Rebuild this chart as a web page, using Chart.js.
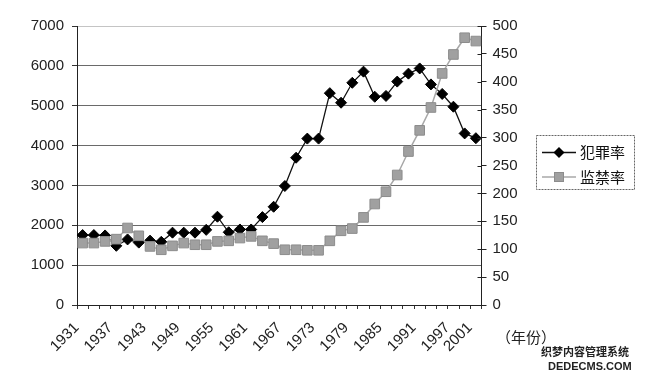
<!DOCTYPE html>
<html><head><meta charset="utf-8">
<script src="https://cdn.jsdelivr.net/npm/chart.js@4"></script>
<style>html,body{margin:0;padding:0;background:#fff}#wrap{width:650px;height:378px;position:relative}</style>
</head><body><div id="wrap"><canvas id="c" width="650" height="378"></canvas></div>
<script>
const years = [1931,1933,1935,1937,1939,1941,1943,1945,1947,1949,1951,1953,1955,1957,1959,1961,1963,1965,1967,1969,1971,1973,1975,1977,1979,1981,1983,1985,1987,1989,1991,1993,1995,1997,1999,2001];
const xLabelYears = [1931,1937,1943,1949,1955,1961,1967,1973,1979,1985,1991,1997,2001];
const crimeRate = [1755,1755,1745,1485,1645,1565,1615,1585,1815,1815,1815,1885,2215,1825,1895,1895,2205,2465,2985,3695,4175,4175,5315,5075,5575,5855,5225,5245,5605,5805,5935,5535,5295,4975,4305,4185];
const prisonRate = [111,111,114,118,138,124,105,99,106,111,108,108,114,115,120,123,115,110,99,99,98,98,115,133,137,157,181,203,233,275,313,354,415,449,479,473];
const seriesNames = ['犯罪率','监禁率'];
const xUnit = '（年份）';
const watermark = ['织梦内容管理系统','DEDECMS.COM'];

const NUM_FONT = 'Liberation Sans, Arial, sans-serif';
const CJK_FONT = '"Noto Sans CJK SC", sans-serif';

const extras = {
  id:'extras',
  afterDraw(chart){
    const ctx = chart.ctx;
    const y2 = chart.scales.y2;
    ctx.save();
    ctx.strokeStyle = '#222'; ctx.lineWidth = 1;
    y2.ticks.forEach((t,i)=>{
      const py = Math.round(y2.getPixelForTick(i))+0.5;
      ctx.beginPath(); ctx.moveTo(y2.left-4, py); ctx.lineTo(y2.left, py); ctx.stroke();
    });
    const bx=536.5, by=135.5, bw=98, bh=54;
    ctx.setLineDash([2,1]); ctx.strokeStyle='#666';
    ctx.strokeRect(bx,by,bw,bh);
    ctx.setLineDash([]);
    const rows=[152.5,177];
    const ds = chart.data.datasets;
    rows.forEach((ry,k)=>{
      ctx.strokeStyle = ds[k].borderColor; ctx.lineWidth = ds[k].borderWidth;
      ctx.beginPath(); ctx.moveTo(542,ry); ctx.lineTo(576,ry); ctx.stroke();
      ctx.fillStyle = ds[k].pointBackgroundColor;
      if(k===0){
        ctx.beginPath(); ctx.moveTo(559,ry-5.5); ctx.lineTo(564.5,ry); ctx.lineTo(559,ry+5.5); ctx.lineTo(553.5,ry); ctx.closePath(); ctx.fill();
      } else {
        ctx.fillRect(554.5,ry-4.5,9,9);
        ctx.strokeStyle = ds[k].pointBorderColor; ctx.lineWidth=1;
        ctx.strokeRect(554.5,ry-4.5,9,9);
      }
      ctx.fillStyle='#111'; ctx.font='15px '+CJK_FONT; ctx.textBaseline='middle'; ctx.textAlign='left';
      ctx.fillText(seriesNames[k], 580, ry);
    });
    ctx.fillStyle='#222'; ctx.font='15px '+CJK_FONT; ctx.textBaseline='middle';
    ctx.fillText(xUnit, 496, 337);
    ctx.fillStyle='#222'; ctx.font='bold 11px '+CJK_FONT; ctx.textAlign='left';
    ctx.fillText(watermark[0], 541, 352);
    ctx.font='bold 11px '+NUM_FONT;
    ctx.fillText(watermark[1], 548, 367);
    ctx.restore();
  }
};

new Chart(document.getElementById('c').getContext('2d'), {
  type:'line',
  data:{labels: years.map(String), datasets:[
    {label:seriesNames[0], data:crimeRate, yAxisID:'y', borderColor:'#111', borderWidth:1.3,
     pointStyle:'rectRot', pointRadius:5.5, pointBackgroundColor:'#000', pointBorderColor:'#000', pointBorderWidth:1, tension:0, order:1},
    {label:seriesNames[1], data:prisonRate, yAxisID:'y2', borderColor:'#a8a8a8', borderWidth:1.5,
     pointStyle:'rect', pointRadius:6.8, pointBackgroundColor:'#a0a0a0', pointBorderColor:'#8c8c8c', pointBorderWidth:1, tension:0, order:0}
  ]},
  options:{
    responsive:false, animation:false, devicePixelRatio:1,
    layout:{padding:{top:26,left:0,right:0,bottom:0}},
    plugins:{legend:{display:false}, tooltip:{enabled:false}},
    scales:{
      x:{type:'category', offset:true,
         grid:{offset:true, drawOnChartArea:false, tickLength:4, color:'#333'},
         border:{color:'#222', width:1},
         ticks:{autoSkip:false, maxRotation:45, minRotation:45, labelOffset:-6, padding:10, color:'#222',
                font:{family:NUM_FONT, size:15},
                callback:function(v,i){ const yr=years[i]; return xLabelYears.includes(yr)?String(yr):''; }},
         afterFit:s=>{ s.height=73; }},
      y:{position:'left', min:0, max:7000,
         ticks:{stepSize:1000, padding:8, color:'#222', font:{family:NUM_FONT, size:15}, callback:v=>String(v)},
         grid:{color:c=>c.tick && c.tick.value===7000?'#c4c4c4':'#6a6a6a', tickColor:'#333', tickLength:5, lineWidth:1},
         border:{color:'#222'},
         afterFit:s=>{ s.width=77; }},
      y2:{position:'right', min:0, max:500,
         ticks:{stepSize:50, padding:6, color:'#222', font:{family:NUM_FONT, size:15}, callback:v=>String(v)},
         grid:{drawOnChartArea:false, tickLength:5, color:'#222'},
         border:{color:'#222'},
         afterFit:s=>{ s.width=168.5; }}
    }
  },
  plugins:[extras]
});
</script></body></html>
